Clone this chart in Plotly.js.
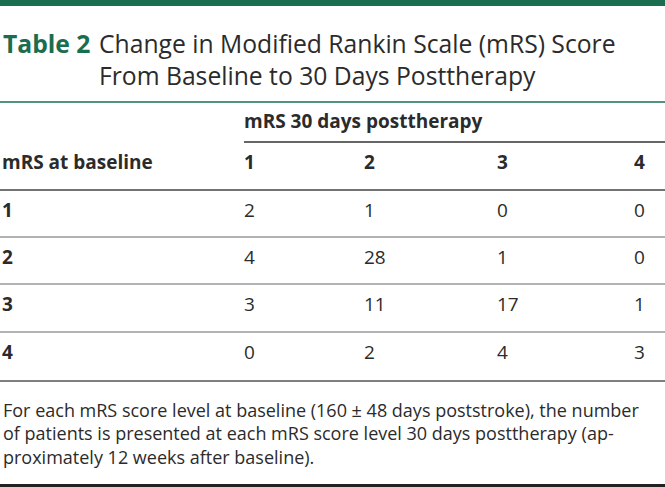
<!DOCTYPE html>
<html>
<head>
<meta charset="utf-8">
<script src="https://cdn.plot.ly/plotly-3.0.1.min.js"></script>
<style>
html,body{margin:0;padding:0;background:#fff;}
#chart{width:665px;height:487px;}
</style>
</head>
<body>
<div id="chart"></div>
<script>
// ---- data ----
const tableLabel = "Table 2";
const titleLines = ["Change in Modified Rankin Scale (mRS) Score", "From Baseline to 30 Days Posttherapy"];
const spanHeader = "mRS 30 days posttherapy";
const rowHeader = "mRS at baseline";
const postCategories = ["1", "2", "3", "4"];
const baselineCategories = ["1", "2", "3", "4"];
const countsBaseline1 = [2, 1, 0, 0];
const countsBaseline2 = [4, 28, 1, 0];
const countsBaseline3 = [3, 11, 17, 1];
const countsBaseline4 = [0, 2, 4, 3];
const footnoteLines = [
  "For each mRS score level at baseline (160 ± 48 days poststroke), the number",
  "of patients is presented at each mRS score level 30 days posttherapy (ap-",
  "proximately 12 weeks after baseline)."
];

// ---- layout / style (positions in pixel units of the hidden axes) ----
const counts = [countsBaseline1, countsBaseline2, countsBaseline3, countsBaseline4];
const colX = [244, 364, 497, 634];
const labelX = 2;
const rowY = [212, 259, 306, 354];
const headerY = 164;
const spanY = 123;
const FONT = "Open Sans, sans-serif";
const GREEN = "#1a6e4f";
const TXT = "#2b2b2b";
const BODY = 19;

const traces = [];
// body cells
counts.forEach((row, i) => {
  traces.push({
    type: "scatter", mode: "text",
    x: postCategories.map((c, j) => colX[j]),
    y: row.map(() => rowY[i]),
    text: row.map(String),
    textposition: "middle right",
    textfont: {family: FONT, size: BODY, color: TXT},
    hoverinfo: "skip", showlegend: false
  });
});
// row labels (bold)
traces.push({
  type: "scatter", mode: "text",
  x: baselineCategories.map(() => labelX),
  y: baselineCategories.map((c, i) => rowY[i]),
  text: baselineCategories.map(c => "<b>" + c + "</b>"),
  textposition: "middle right",
  textfont: {family: FONT, size: BODY, color: TXT},
  hoverinfo: "skip", showlegend: false
});
// column headers
traces.push({
  type: "scatter", mode: "text",
  x: postCategories.map((c, j) => colX[j]).concat([labelX, colX[0]]),
  y: postCategories.map(() => headerY).concat([headerY, spanY]),
  text: postCategories.map(c => "<b>" + c + "</b>").concat(["<b>" + rowHeader + "</b>", "<b>" + spanHeader + "</b>"]),
  textposition: "middle right",
  textfont: {family: FONT, size: BODY, color: TXT},
  hoverinfo: "skip", showlegend: false
});

const annotations = [
  {x: 1, y: 43, xref: "x", yref: "y", xanchor: "left", yanchor: "middle", showarrow: false,
   text: "<b>" + tableLabel + "</b>", font: {family: FONT, size: 24.7, color: GREEN}},
  {x: 97, y: 43, xref: "x", yref: "y", xanchor: "left", yanchor: "middle", showarrow: false,
   text: titleLines[0], font: {family: FONT, size: 24.7, color: TXT}},
  {x: 97, y: 75, xref: "x", yref: "y", xanchor: "left", yanchor: "middle", showarrow: false,
   text: titleLines[1], font: {family: FONT, size: 24.7, color: TXT}},
  {x: 1, y: 433, xref: "x", yref: "y", xanchor: "left", yanchor: "middle", align: "left",
   showarrow: false, text: footnoteLines.join("<br>"), font: {family: FONT, size: 18, color: TXT}}
];

function hline(y, x0, x1, color, w) {
  return {type: "line", xref: "x", yref: "y", x0: x0, x1: x1, y0: y, y1: y, line: {color: color, width: w}};
}
const shapes = [
  {type: "rect", xref: "x", yref: "y", x0: 0, x1: 665, y0: 0, y1: 6, fillcolor: GREEN, line: {width: 0}},
  hline(102, 0, 665, GREEN, 1.5),
  hline(142, 244, 665, "#333", 1.5),
  hline(190, 0, 665, "#444", 1.5),
  hline(237, 0, 665, "#666", 1.2),
  hline(284, 0, 665, "#666", 1.2),
  hline(332, 0, 665, "#666", 1.2),
  hline(381, 0, 665, "#555", 1.5),
  {type: "rect", xref: "x", yref: "y", x0: 0, x1: 665, y0: 484, y1: 487, fillcolor: "#222", line: {width: 0}}
];

const layout = {
  width: 665, height: 487,
  margin: {l: 0, r: 0, t: 0, b: 0},
  paper_bgcolor: "#fff", plot_bgcolor: "#fff",
  xaxis: {range: [0, 665], visible: false, fixedrange: true},
  yaxis: {range: [487, 0], visible: false, fixedrange: true},
  annotations: annotations,
  shapes: shapes,
  showlegend: false
};
Plotly.newPlot("chart", traces, layout, {displayModeBar: false, staticPlot: true});
</script>
</body>
</html>
